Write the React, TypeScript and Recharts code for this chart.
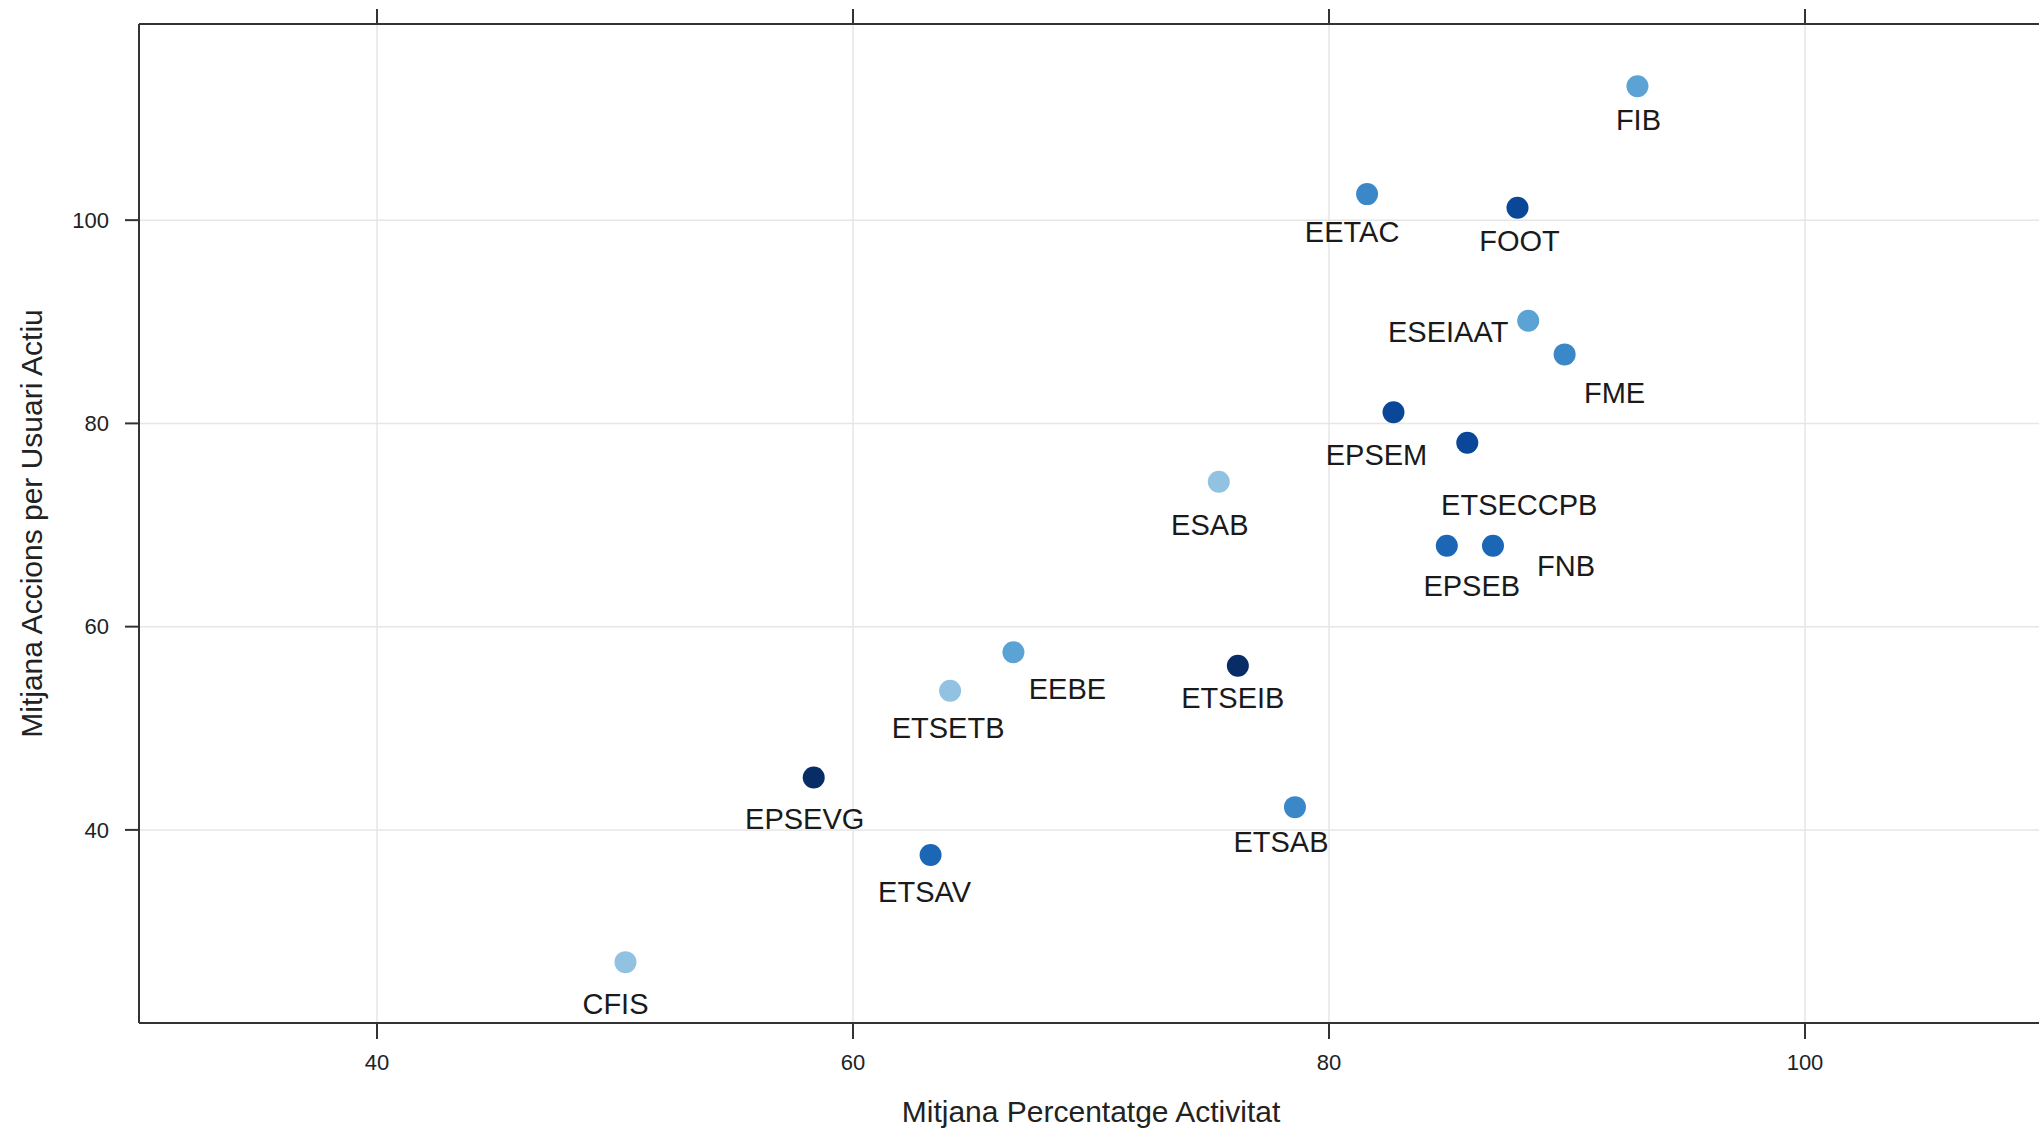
import {
  ScatterChart,
  Scatter,
  XAxis,
  YAxis,
  CartesianGrid,
  Label,
} from "recharts";

// schools, activity % (x) and actions per active user (y)
const schools = [
  "FIB", "EETAC", "FOOT", "ESEIAAT", "FME", "EPSEM", "ETSECCPB", "ESAB", "EPSEB",
  "FNB", "EEBE", "ETSEIB", "ETSETB", "EPSEVG", "ETSAV", "ETSAB", "CFIS",
];
const activitat = [
  92.96, 81.6, 87.92, 88.37, 89.9, 82.71, 85.81, 75.37, 84.95,
  86.89, 66.74, 76.17, 64.08, 58.35, 63.26, 78.57, 50.44,
];
const accions = [
  113.18, 102.56, 101.21, 90.1, 86.79, 81.09, 78.1, 74.26, 67.97,
  67.97, 57.48, 56.16, 53.7, 45.15, 37.54, 42.24, 26.99,
];
// colour group (0 = lightest)
const shade = [1, 2, 4, 1, 2, 4, 4, 0, 3, 3, 1, 5, 0, 5, 3, 2, 0];

const xTicks = [40, 60, 80, 100];
const yTicks = [40, 60, 80, 100];

const palette = ["#92c2e2", "#5aa3d4", "#3a88c8", "#1c66b6", "#0b4799", "#082d66"];

// label placement relative to the point (text-repel look)
const nudge: Record<string, [number, number]> = {
  FIB: [1, 33],
  EETAC: [-15, 37],
  FOOT: [2, 33],
  ESEIAAT: [-80, 11],
  FME: [50, 38],
  EPSEM: [-17, 42],
  ETSECCPB: [52, 62],
  ESAB: [-9, 43],
  EPSEB: [25, 40],
  FNB: [73, 20],
  EEBE: [54, 36],
  ETSEIB: [-5, 32],
  ETSETB: [-2, 37],
  EPSEVG: [-9, 41],
  ETSAV: [-6, 37],
  ETSAB: [-14, 34],
  CFIS: [-10, 41],
};

const FONT = "'Liberation Sans', Arial, Helvetica, sans-serif";

const data = schools.map((name, i) => ({
  name,
  x: activitat[i],
  y: accions[i],
  color: palette[shade[i]],
}));

function Dot(props: any) {
  const { cx, cy, payload } = props;
  const [dx, dy] = nudge[payload.name] || [0, 34];
  return (
    <g>
      <circle cx={cx} cy={cy} r={11} fill={payload.color} />
      <text
        x={cx + dx}
        y={cy + dy + 10.5}
        textAnchor="middle"
        fontSize={29}
        fontFamily={FONT}
        fill="#1a1a1a"
      >
        {payload.name}
      </text>
    </g>
  );
}

export default function App() {
  return (
    <div
      style={{
        position: "absolute",
        left: 0,
        top: 0,
        width: 2039,
        height: 1129,
        overflow: "hidden",
        background: "#fff",
      }}
    >
      <ScatterChart
        width={2080}
        height={1129}
        margin={{ top: 20, right: 37, bottom: 46, left: 59 }}
      >
        <CartesianGrid stroke="#e6e6e6" strokeWidth={1.5} />
        <XAxis
          type="number"
          dataKey="x"
          domain={[30, 110]}
          ticks={xTicks}
          allowDataOverflow
          height={60}
          stroke="#333"
          strokeWidth={2}
          tickSize={16}
          tickMargin={15}
          tick={{ fontSize: 22, fill: "#222", fontFamily: FONT }}
        >
          <Label
            value="Mitjana Percentatge Activitat"
            position="bottom"
            offset={18}
            style={{ fontSize: 30, fill: "#222", fontFamily: FONT }}
          />
        </XAxis>
        <XAxis
          xAxisId="top"
          orientation="top"
          type="number"
          dataKey="x"
          domain={[30, 110]}
          ticks={xTicks}
          allowDataOverflow
          height={4}
          stroke="#333"
          strokeWidth={2}
          tickSize={15}
          tickLine={{ stroke: "#333", strokeWidth: 2 }}
          tick={() => <g />}
        />
        <YAxis
          type="number"
          dataKey="y"
          domain={[21, 119.3]}
          ticks={yTicks}
          allowDataOverflow
          width={80}
          stroke="#333"
          strokeWidth={2}
          tickSize={14}
          tickMargin={16}
          tick={{ fontSize: 22, fill: "#222", fontFamily: FONT }}
        >
          <Label
            content={({ viewBox }: any) => {
              const cx = viewBox.x - 28;
              const cy = viewBox.y + viewBox.height / 2;
              return (
                <text
                  x={cx}
                  y={cy}
                  transform={`rotate(-90 ${cx} ${cy})`}
                  textAnchor="middle"
                  dominantBaseline="central"
                  fontSize={30}
                  fontFamily={FONT}
                  fill="#222"
                >
                  Mitjana Accions per Usuari Actiu
                </text>
              );
            }}
          />
        </YAxis>
        <Scatter data={data} shape={<Dot />} isAnimationActive={false} />
        <Scatter
          data={data}
          xAxisId="top"
          shape={() => <g />}
          isAnimationActive={false}
        />
      </ScatterChart>
    </div>
  );
}
